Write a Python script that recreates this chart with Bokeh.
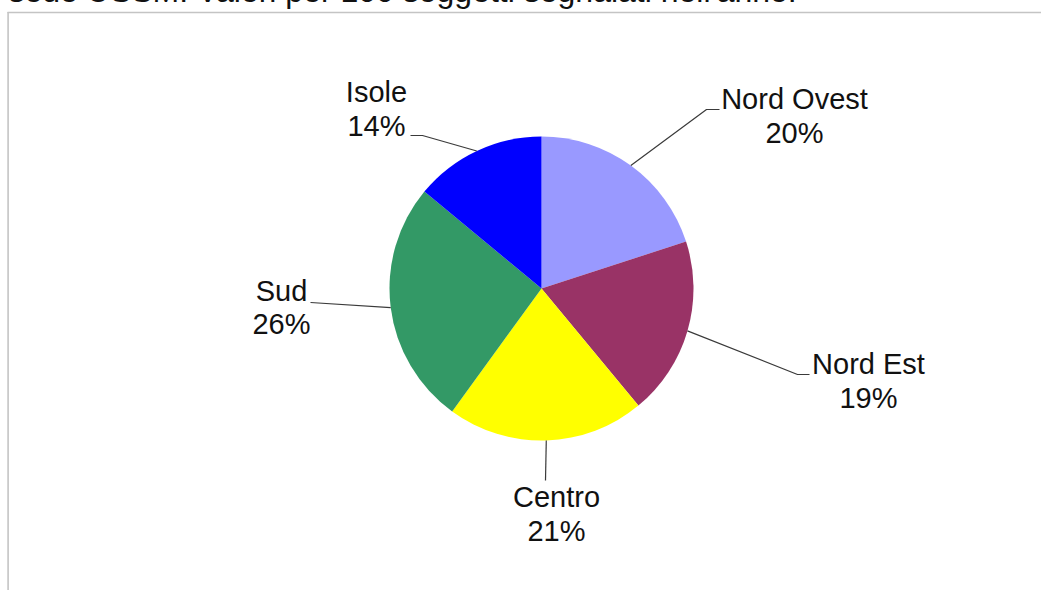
import numpy as np
from bokeh.plotting import figure
from bokeh.models import Range1d, ColumnDataSource
from bokeh.core.properties import value
from bokeh.embed import file_html
from bokeh.resources import INLINE

# ---- data ----
regions = ["Nord Ovest", "Nord Est", "Centro", "Sud", "Isole"]
percent = [20, 19, 21, 26, 14]
colors = ["#9999FF", "#993366", "#FFFF00", "#339966", "#0000FF"]
title_text = "sede USSM. Valori per 100 soggetti segnalati nell'anno."

# ---- layout (page pixels) ----
W, H = 1041, 598
TOP = 8          # figure starts 8px above the page top
TXT_OFF = 10     # svg text baseline correction
CX, CY, R = 541, 288, 152
elbow = [(706, 109), (797, 374), (545, 480), (310, 302), (422, 135)]
lend = [(719, 109), (809, 374), (545, 480), (310, 302), (410, 135)]
text_x = [794, 868, 556, 281, 376]
name_y = [108, 373, 506, 300, 101]
pct_y = [142, 407, 540, 333, 135]
FONT = value("Liberation Sans")


def px(x):
    return x


def py(y):
    return -(y + TOP)


vals = np.array(percent, dtype=float)
frac = vals / vals.sum()
cum = np.concatenate([[0], np.cumsum(frac)])
start = np.deg2rad(90 - cum[:-1] * 360)
end = np.deg2rad(90 - cum[1:] * 360)
mid = (start + end) / 2

p = figure(width=W, height=H, x_range=Range1d(0, W), y_range=Range1d(-H, 0),
           output_backend="svg", toolbar_location=None, min_border=0,
           x_axis_type=None, y_axis_type=None, outline_line_color=None,
           background_fill_color="white", border_fill_color="white")
p.xgrid.visible = False
p.ygrid.visible = False
p.styles = {"margin-top": "-8px"}

# frame border
p.segment(x0=[7, 7.6], y0=[py(12), py(11.5)], x1=[W, 7.6], y1=[py(12), -H],
          line_color="#c4c4c4", line_width=1.6)

# title (clipped at top)
p.text(x=[px(8)], y=[py(1 - 11)], text=[title_text], text_align="left",
       text_baseline="alphabetic", text_font=FONT, text_font_size="32px",
       text_color="#111111")

src = ColumnDataSource(dict(start=start, end=end, color=colors, region=regions))
p.wedge(x=px(CX), y=py(CY), radius=R, start_angle="start", end_angle="end",
        direction="clock", fill_color="color", line_color=None, source=src)

# leader lines
xs, ys = [], []
for i in range(len(regions)):
    ex = CX + R * np.cos(mid[i])
    ey = CY - R * np.sin(mid[i])
    xs.append([px(ex), px(elbow[i][0]), px(lend[i][0])])
    ys.append([py(ey), py(elbow[i][1]), py(lend[i][1])])
p.multi_line(xs=xs, ys=ys, line_color="#3a3a3a", line_width=1.2)

# labels
p.text(x=[px(v) for v in text_x], y=[py(v - TXT_OFF) for v in name_y], text=regions,
       text_align="center", text_baseline="alphabetic", text_font=FONT,
       text_font_size="29px", text_color="#111111")
p.text(x=[px(v) for v in text_x], y=[py(v - TXT_OFF) for v in pct_y],
       text=[f"{v}%" for v in percent],
       text_align="center", text_baseline="alphabetic", text_font=FONT,
       text_font_size="29px", text_color="#111111")

open("out.html", "w").write(file_html(p, INLINE))
